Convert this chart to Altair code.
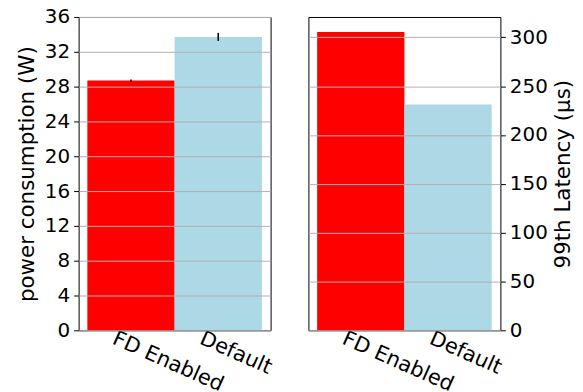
import altair as alt
import pandas as pd

configs = ["FD Enabled", "Default"]
power = [28.69, 33.71]
power_err = [0.12, 0.46]
latency = [305.5, 231.1]
colors = ["#ff0000", "#add8e6"]
power_ticks = [0, 4, 8, 12, 16, 20, 24, 28, 32, 36]
latency_ticks = [0, 50, 100, 150, 200, 250, 300]

df = pd.DataFrame({
    "config": configs,
    "power": power,
    "lo": [p - e for p, e in zip(power, power_err)],
    "hi": [p + e for p, e in zip(power, power_err)],
    "latency": latency,
})

FONT = "DejaVu Sans"

xaxis = alt.Axis(title=None, labelAngle=24, labelAlign="left", labelBaseline="top",
                 labelOffset=-13, labelPadding=-3, ticks=False, domain=False,
                 labelFontSize=21, labelColor="black", grid=False, labelOverlap=False)
xscale = alt.Scale(paddingInner=0, paddingOuter=0.1)
xenc = alt.X("config:N", sort=configs, scale=xscale, axis=xaxis)
cenc = alt.Color("config:N", scale=alt.Scale(domain=configs, range=colors), legend=None)

yaxis_left = alt.Axis(values=power_ticks, title="power consumption (W)",
                      grid=True, gridColor="#b0b0b0", zindex=1, labelOverlap=False,
                      tickSize=5, tickColor="black", domain=False,
                      labelFontSize=20, labelColor="black", labelPadding=4,
                      titleFontSize=21.5, titleFontWeight="normal",
                      titleColor="black", titlePadding=6)
yscale_left = alt.Scale(domain=[0, 36], nice=False)

base = alt.Chart(df)

left_bars = base.mark_bar().encode(
    x=xenc,
    y=alt.Y("power:Q", scale=yscale_left, axis=yaxis_left),
    color=cenc,
)
left_err = base.mark_rule(color="black", strokeWidth=1.6).encode(
    x=alt.X("config:N", sort=configs, scale=xscale, axis=xaxis),
    y=alt.Y("lo:Q", scale=yscale_left, axis=yaxis_left, title="power consumption (W)"),
    y2="hi:Q")
left = alt.layer(left_bars, left_err).properties(width=193, height=315)

right = base.mark_bar().encode(
    x=xenc,
    y=alt.Y("latency:Q", scale=alt.Scale(domain=[0, 320.8], nice=False),
            axis=alt.Axis(orient="right", values=latency_ticks, title="99th Latency (μs)",
                          grid=True, gridColor="#b0b0b0", zindex=1, labelOverlap=False,
                          tickSize=5, tickColor="black", domain=False,
                          labelFontSize=20, labelColor="black", labelPadding=4,
                          titleFontSize=21.5, titleFontWeight="normal",
                          titleColor="black", titlePadding=5,
                          titleAngle=270, titleBaseline="top")),
    color=cenc,
).properties(width=193, height=315)

chart = alt.hconcat(left, right, spacing=38, bounds="flush").configure(
    font=FONT, padding={"top": -3, "left": 8, "right": 0, "bottom": 0}
).configure_view(stroke="black", strokeWidth=1)

chart.save("out.html", embed_options={"renderer": "svg", "actions": False})
